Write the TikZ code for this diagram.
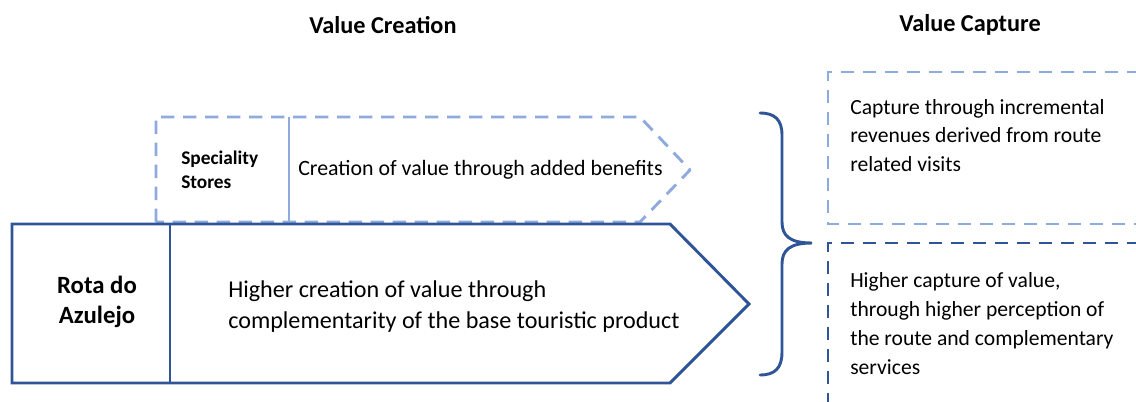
\documentclass[tikz,border=0pt]{standalone}
\usepackage{fontspec}
\setmainfont{Carlito}
\definecolor{dkblue}{HTML}{2F5597}
\definecolor{ltblue}{HTML}{8FAADC}
\begin{document}
\begin{tikzpicture}[x=0.75pt,y=-0.75pt,
  dk/.style={draw=dkblue,line width=2.2pt},
  lt/.style={draw=ltblue,line width=2.2pt},
  dsh/.style={dash pattern=on 10pt off 6.5pt},
  title/.style={font=\fontsize{18.2}{22}\selectfont\bfseries,anchor=center,inner sep=0pt},
  lbl/.style={anchor=west,align=left,inner sep=0pt}]
\useasboundingbox (0,0) rectangle (1136,401);
\clip (0,0) rectangle (1136,401);
% titles
\node[title] (t1) at (383,25) {Value Creation};
\node[title] (t2) at (970,25) {Value Capture};
% speciality stores dashed arrow
\draw[lt,dsh,line join=round] (156,222) -- (156,117) -- (640,117) -- (690,170) -- (640,222) -- cycle;
\draw[lt] (289,117) -- (289,222);
\node[lbl,font=\fontsize{14.5}{18}\selectfont\bfseries] (ss) at (181,170) {Speciality\\Stores};
\node[lbl,font=\fontsize{16.4}{20}\selectfont] (cv) at (298,170) {Creation of value through added benefits};
% main arrow
\draw[dk,line join=miter] (12,224) -- (670,224) -- (749,304) -- (670,383) -- (12,383) -- cycle;
\draw[dk] (170,224) -- (170,383);
\node[font=\fontsize{18.6}{22.5}\selectfont\bfseries,align=center,inner sep=0pt] (ra) at (97,302) {Rota do\\Azulejo};
\node[lbl,font=\fontsize{18.1}{23.3}\selectfont] (hc) at (228,307) {Higher creation of value through\\complementarity of the base touristic product};
% brace
\draw[dk,line cap=round] (760,113) .. controls (775,113) and (782,120) .. (782,135)
  -- (782,222) .. controls (782,236) and (790,243) .. (812,243)
  .. controls (790,243) and (782,250) .. (782,264)
  -- (782,352) .. controls (782,368) and (775,375) .. (760,375);
% capture boxes
\draw[lt,dsh] (1140,72) -- (828,72) -- (828,224) -- (1140,224);
\draw[dk,dsh] (1140,243) -- (828,243) -- (828,405);
\node[lbl,anchor=north west,font=\fontsize{16.2}{21.4}\selectfont] (c1) at (850,99) {Capture through incremental\\revenues derived from route\\related visits};
\node[lbl,anchor=north west,font=\fontsize{16.2}{21.9}\selectfont] (c2) at (850,272) {Higher capture of value,\\through higher perception of\\the route and complementary\\services};
\end{tikzpicture}
\end{document}
